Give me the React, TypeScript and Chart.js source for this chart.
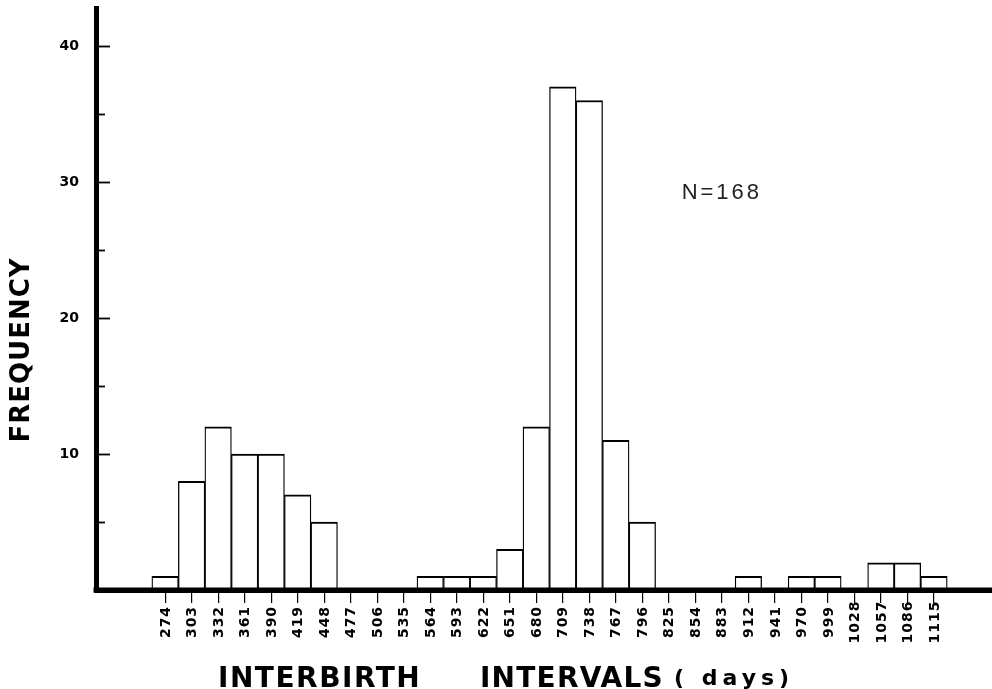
import React, { useEffect, useRef } from 'react';
import { Chart, registerables } from 'chart.js';

Chart.register(...registerables);

// Interval class labels (days)
const intervalLabels = [
  274, 303, 332, 361, 390, 419, 448, 477, 506, 535,
  564, 593, 622, 651, 680, 709, 738, 767, 796, 825,
  854, 883, 912, 941, 970, 999, 1028, 1057, 1086, 1115,
];
// Frequencies for each class
const frequencies = [
  1, 8, 12, 10, 10, 7, 5, 0, 0, 0,
  1, 1, 1, 3, 12, 37, 36, 11, 5, 0,
  0, 0, 1, 0, 1, 1, 0, 2, 2, 1,
];
const yTickValues = [10, 20, 30, 40];
const yMinorTickValues = [5, 15, 25, 35];
const yTitle = 'FREQUENCY';
const xTitleWord1 = 'INTERBIRTH';
const xTitleWord2 = 'INTERVALS';
const xTitleUnit = '( days)';
const sampleNote = 'N=168';
const sampleNoteAt = { x: 883, y: 29.2 };

const decorPlugin = {
  id: 'decor',
  afterDatasetsDraw(chart: any) {
    // re-stroke the baseline over the bar bottoms so it keeps an even weight
    const { ctx, chartArea } = chart;
    const base = chart.scales.y.getPixelForValue(0);
    ctx.save();
    ctx.fillStyle = '#000';
    ctx.fillRect(chartArea.left - 2.5, base - 2.5, chartArea.right - chartArea.left + 2.5, 5);
    ctx.restore();
  },
  afterDraw(chart: any) {
    const { ctx, chartArea } = chart;
    const x = chart.scales.x;
    const y = chart.scales.y;
    ctx.save();
    // inner y ticks
    ctx.strokeStyle = '#000';
    ctx.lineWidth = 1.8;
    [...yMinorTickValues, ...yTickValues].forEach((v) => {
      const py = Math.round(y.getPixelForValue(v)) + 0.5;
      const len = yTickValues.includes(v) ? 14 : 9;
      ctx.beginPath();
      ctx.moveTo(chartArea.left, py);
      ctx.lineTo(chartArea.left + len, py);
      ctx.stroke();
    });
    // x tick labels, rotated, centered
    ctx.fillStyle = '#000';
    ctx.font = 'bold 14px "DejaVu Sans"';
    (ctx as any).letterSpacing = '1px';
    ctx.textAlign = 'center';
    ctx.textBaseline = 'middle';
    intervalLabels.forEach((v) => {
      const px = x.getPixelForValue(v);
      ctx.save();
      ctx.translate(px + 1, chartArea.bottom + 32);
      ctx.rotate(-Math.PI / 2);
      ctx.fillText(String(v), 0, 0);
      ctx.restore();
    });
    // N=168 note
    ctx.font = '22px "Liberation Sans"';
    (ctx as any).letterSpacing = '3px';
    ctx.fillStyle = '#222';
    ctx.fillText(sampleNote, x.getPixelForValue(sampleNoteAt.x), y.getPixelForValue(sampleNoteAt.y));
    // y title
    ctx.font = 'bold 26px "DejaVu Sans"';
    (ctx as any).letterSpacing = '1px';
    ctx.fillStyle = '#000';
    ctx.save();
    ctx.translate(22, 350);
    ctx.rotate(-Math.PI / 2);
    ctx.fillText(yTitle, 0, 0);
    ctx.restore();
    // x title
    ctx.textAlign = 'left';
    ctx.textBaseline = 'alphabetic';
    ctx.font = 'bold 28px "DejaVu Sans"';
    (ctx as any).letterSpacing = '1.5px';
    ctx.fillText(xTitleWord1, 218, 687);
    (ctx as any).letterSpacing = '1.2px';
    ctx.fillText(xTitleWord2, 480, 687);
    ctx.font = 'bold 22px "DejaVu Sans"';
    (ctx as any).letterSpacing = '5px';
    ctx.fillText(xTitleUnit, 674, 685);
    ctx.restore();
  },
};

export default function App() {
  const canvasRef = useRef<HTMLCanvasElement | null>(null);

  useEffect(() => {
    document.body.style.margin = '0';
    const canvas = canvasRef.current;
    if (!canvas) return;
    const chart = new Chart(canvas, {
      type: 'bar',
      data: {
        datasets: [
          {
            // empty classes (frequency 0) leave no bar outline
            data: intervalLabels.map((v, i) => ({ x: v, y: frequencies[i] > 0 ? frequencies[i] : null })),
            backgroundColor: '#ffffff',
            borderColor: '#000000',
            borderWidth: { top: 2, left: 1.3, right: 1.3, bottom: 0 },
            borderSkipped: 'start',
            barPercentage: 1,
            categoryPercentage: 1,
          },
        ],
      },
      options: {
        responsive: false,
        animation: false,
        devicePixelRatio: 1,
        layout: { padding: { top: 8, left: 0, right: 0, bottom: 0 } },
        plugins: {
          legend: { display: false },
          tooltip: { enabled: false },
          title: { display: false },
        },
        scales: {
          x: {
            type: 'linear',
            min: 198.4,
            max: 1178.5,
            offset: false,
            afterBuildTicks: (s: any) => {
              s.ticks = intervalLabels.map((v) => ({ value: v }));
            },
            afterFit: (s: any) => {
              s.height = 99;
              s.paddingLeft = 0;
              s.paddingRight = 0;
            },
            ticks: { display: false, autoSkip: false },
            grid: {
              display: true,
              offset: false,
              drawOnChartArea: false,
              drawTicks: true,
              tickLength: 13,
              color: '#000',
              lineWidth: 1.2,
            },
            border: { display: true, color: '#000', width: 5 },
          },
          y: {
            type: 'linear',
            min: 0,
            max: 42.8,
            afterBuildTicks: (s: any) => {
              s.ticks = yTickValues.map((v) => ({ value: v }));
            },
            afterFit: (s: any) => {
              s.width = 96;
              s.paddingTop = 0;
              s.paddingBottom = 0;
            },
            ticks: {
              color: '#000',
              padding: 17,
              font: { family: '"DejaVu Sans"', size: 14, weight: 'bold' },
            },
            grid: { display: false, drawTicks: false },
            border: { display: true, color: '#000', width: 5 },
          },
        },
      },
      plugins: [decorPlugin],
    });
    return () => chart.destroy();
  }, []);

  return (
    <div style={{ position: 'absolute', left: 0, top: 0, width: 992, height: 689, background: '#fff' }}>
      <canvas ref={canvasRef} width={992} height={689} style={{ display: 'block' }} />
    </div>
  );
}
